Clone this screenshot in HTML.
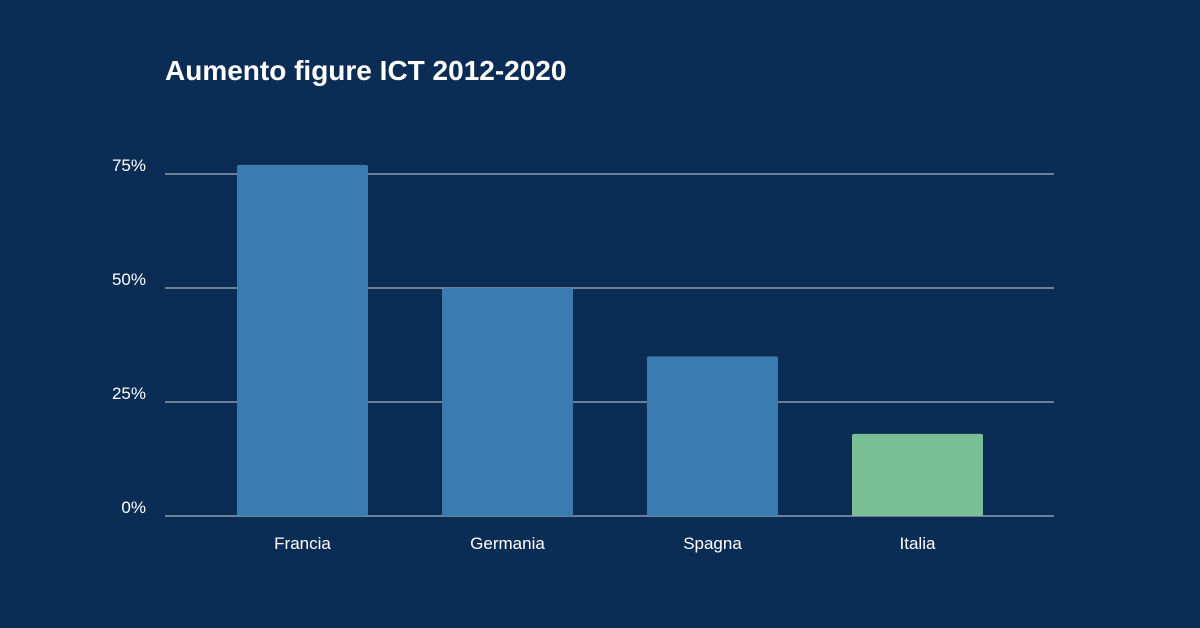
<!DOCTYPE html>
<html><head><meta charset="utf-8"><style>
html,body{margin:0;padding:0;background:#0b2d55;}
svg{display:block;font-family:"Liberation Sans","DejaVu Sans",sans-serif;}
</style></head><body>
<svg id="chart" width="1200" height="628" viewBox="0 0 1200 628">
<rect x="0" y="0" width="1200" height="628" fill="#0b2d55"/>
<text x="165" y="80" fill="#ffffff" font-size="28" font-weight="bold">Aumento figure ICT 2012-2020</text>
<g id="grid"></g><g id="bars"></g><g id="labels"></g>
</svg>
<script>
const categories = ["Francia","Germania","Spagna","Italia"];
const values = [77,50,35,18];
const highlight = [false,false,false,true];
const tickValues = [0,25,50,75];
const tickLabels = ["0%","25%","50%","75%"];

const NS="http://www.w3.org/2000/svg";
const yBase=516, pxPer=114/25;
const y = v => yBase - v*pxPer;
const bandStart=200, band=205, barW=131;
const xc = i => bandStart + band*i + band/2;
function mk(tag, attrs, parent){const e=document.createElementNS(NS,tag);for(const k in attrs)e.setAttribute(k,attrs[k]);parent.appendChild(e);return e;}
const grid=document.getElementById('grid'), bars=document.getElementById('bars'), labels=document.getElementById('labels');
tickValues.forEach((t,i)=>{
  const l=mk('line',{x1:165,x2:1054,y1:y(t),y2:y(t),stroke:'#c8d2de','stroke-width':1},grid);
  
  
  const tx=mk('text',{x:146,y:y(t)-3,fill:'#ffffff','font-size':17,'text-anchor':'end'},grid);
  tx.textContent=tickLabels[i];
  
  
});
categories.forEach((c,i)=>{
  const r=mk('rect',{x:xc(i)-barW/2,y:y(values[i]),width:barW,height:yBase-y(values[i]),rx:2,fill:highlight[i]?'#79bf94':'#3a7cb0'},bars);
  
  
  const t=mk('text',{x:xc(i),y:549,fill:'#ffffff','font-size':17,'text-anchor':'middle'},labels);
  t.textContent=c;
  
  
});
</script>
</body></html>
